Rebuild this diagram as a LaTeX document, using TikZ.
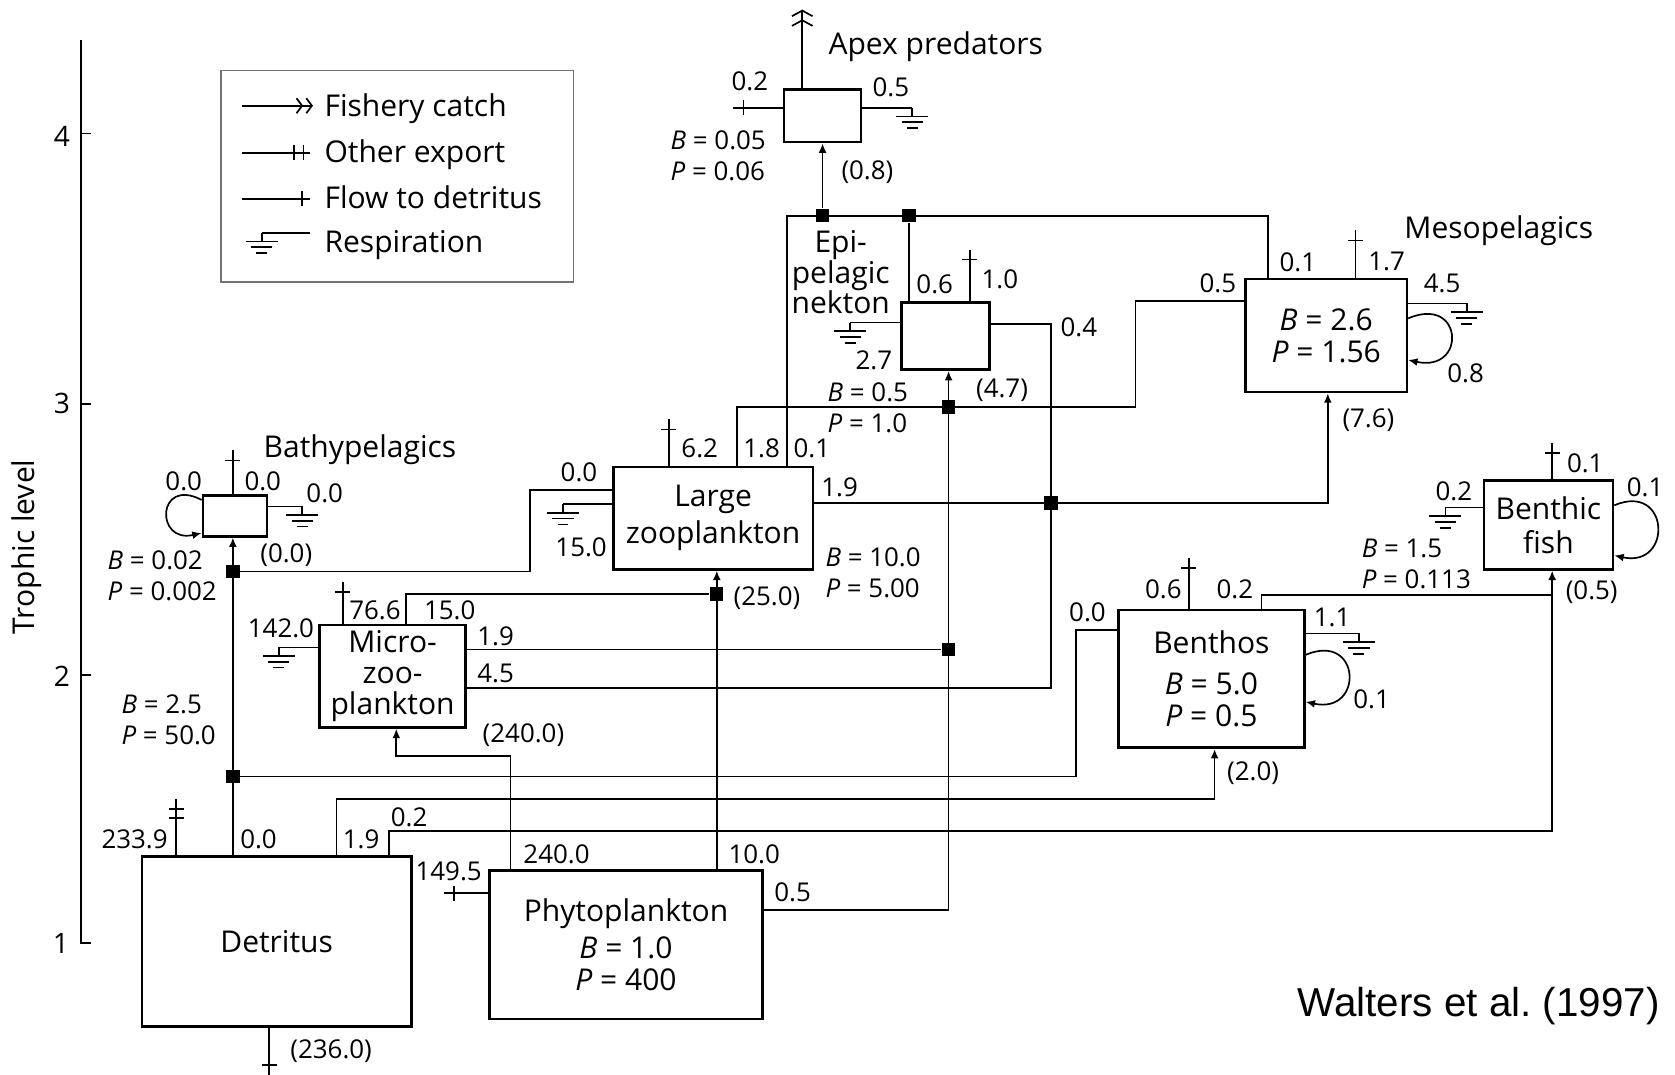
\documentclass[tikz,border=0pt]{standalone}
\usepackage{fontspec}
\setmainfont{Open Sans}
\newfontfamily\arialfont{Liberation Sans}
\usetikzlibrary{arrows.meta}
\newcommand\nmfont{\fontsize{16}{17}\selectfont}
\newcommand\nbfont{\fontsize{13.8}{16.5}\selectfont}
\tikzset{
  box/.style={draw, line width=1.4pt, inner sep=0pt, align=center, font=\nmfont},
  legbox/.style={draw=black!55, line width=0.8pt, inner sep=0pt},
  num/.style={font=\nbfont, inner sep=0pt},
  nm/.style={font=\nmfont, inner sep=0pt},
  bp/.style={font=\nbfont, inner sep=0pt, align=left, anchor=west},
  sq/.style={fill=black, inner sep=0pt, minimum size=0.25cm},
  arr/.style={-{Latex[length=5pt,width=4.2pt]}},
  catcharr/.style={-{Straight Barb[length=3pt,width=11pt,sep=1.2pt]Straight Barb[length=3pt,width=11pt]}},
  catchleg/.style={-{Straight Barb[length=3pt,width=8pt,sep=1.2pt]Straight Barb[length=3pt,width=8pt]}},
  grnd/.pic={\draw (0,0) -- (0,8); \draw (-15,8) -- (15,8); \draw (-10,13.5) -- (10,13.5); \draw (-5,19) -- (5,19);},
  htick/.pic={\draw (-7,0) -- (7,0);},
  vtick/.pic={\draw (0,-7) -- (0,7);},
}
\begin{document}
\begin{tikzpicture}[x=0.02cm, y=-0.02cm, line width=0.9pt]
\useasboundingbox (0,0) rectangle (1568,1006);

% ---------- axis ----------
\draw (76,37) -- (76,883) -- (85,883);
\draw (76,125) -- (85,125);
\draw (76,378) -- (85,378);
\draw (76,632) -- (85,632);
\node[num, font=\fontsize{15}{16}\selectfont] (t4) at (58,128) {4};
\node[num, font=\fontsize{15}{16}\selectfont] (t3) at (58,378) {3};
\node[num, font=\fontsize{15}{16}\selectfont] (t2) at (58,633) {2};
\node[num, font=\fontsize{15}{16}\selectfont] (t1) at (57,883) {1};
\node[nm, rotate=90] (tl) at (25,512) {Trophic level};

% ---------- legend ----------
\node[legbox, minimum width=6.6cm, minimum height=3.96cm] (leg) at (372,165) {};
\coordinate (l1) at (227,99);
\coordinate (l2) at (227,143);
\coordinate (l3) at (227,186);
\coordinate (l4) at (245,218);
\draw[catchleg] (l1) -- (293,99);
\draw (l2) -- (290,143);
\path (275,143) pic {vtick} (284,143) pic {vtick};
\draw (l3) -- (290,186);
\path (283,186) pic {vtick};
\draw (l4) -- (290,218);
\path (l4) pic {grnd};
\node[nm, anchor=base west] (lt1) at (303,109) {Fishery catch};
\node[nm, anchor=base west] (lt2) at (303,152) {Other export};
\node[nm, anchor=base west] (lt3) at (303,195) {Flow to detritus};
\node[nm, anchor=base west] (lt4) at (303,236) {Respiration};

% ---------- boxes ----------
\node[box, minimum width=1.44cm, minimum height=0.98cm] (apex) at (770,108.5) {};
\node[box, minimum width=1.64cm, minimum height=1.26cm] (nekton) at (885,314.5) {};
\node[box, minimum width=3.02cm, minimum height=2.12cm] (meso) at (1241.5,314) {\textit{B} = 2.6\\\textit{P} = 1.56};
\node[box, minimum width=1.2cm, minimum height=0.76cm] (bathy) at (220,483) {};
\node[box, minimum width=3.74cm, minimum height=1.92cm] (zoo) at (667.5,485) {Large\\[2.5pt]zooplankton};
\node[box, minimum width=2.74cm, minimum height=1.92cm, font=\fontsize{16}{16.5}\selectfont] (micro) at (367.5,633) {Micro-\\zoo-\\plankton};
\node[box, minimum width=3.48cm, minimum height=2.58cm] (benthos) at (1134,635.5) {Benthos\\[5pt]\textit{B} = 5.0\\\textit{P} = 0.5};
\node[box, minimum width=2.42cm, minimum height=1.66cm] (bfish) at (1449.5,491.5) {Benthic\\[1pt]fish};
\node[box, minimum width=5.04cm, minimum height=3.18cm] (detritus) at (259,881.5) {Detritus};
\node[box, minimum width=5.12cm, minimum height=2.78cm] (phyto) at (586,884.5) {Phytoplankton\\[3pt]\textit{B} = 1.0\\\textit{P} = 400};

% ---------- junction squares ----------
\node[sq] (j1) at (770,202) {};
\node[sq] (j2) at (851,202) {};
\node[sq] (j3) at (888,381) {};
\node[sq] (j4) at (984,471) {};
\node[sq] (j5) at (888,608) {};
\node[sq] (j6) at (218,535) {};
\node[sq] (j7) at (671,556) {};
\node[sq] (j8) at (218,727) {};

% ---------- apex predators ----------
\draw[catcharr] (apex.north -| 751,0) -- (751,9);
\draw (apex.west |- 0,101) -- (686,101);
\path (696,101) pic {vtick};
\draw (apex.east |- 0,101) -- (854,101);
\path (854,101) pic {grnd};
\draw[arr] (j1) -- (apex.south);

% ---------- top collector line ----------
\draw (zoo.north -| 737,0) -- (737,202) -- (1187,202) -- (meso.north -| 1187,0);

% ---------- epipelagic nekton ----------
\draw (nekton.north -| 851,0) -- (j2);
\draw (nekton.north -| 908,0) -- (908,234);
\path (908,243) pic {htick};
\draw (nekton.west |- 0,302) -- (796,302);
\path (796,302) pic {grnd};
\draw (nekton.east |- 0,303) -- (984,303) -- (984,644) -- (micro.east |- 0,644);
\draw[arr] (phyto.east |- 0,852) -- (888,852) -- (nekton.south -| 888,0);

% ---------- large zooplankton ----------
\draw (zoo.north -| 690,0) -- (690,381) -- (1063,381) -- (1063,282) -- (meso.west |- 0,282);
\draw (zoo.north -| 626,0) -- (626,392);
\path (626,402) pic {htick};
\draw[arr] (zoo.east |- 0,471) -- (1243,471) -- (meso.south -| 1243,0);
\draw (zoo.west |- 0,459) -- (496,459) -- (496,535) -- (j6);
\draw (zoo.west |- 0,472) -- (527,472);
\path (527,472) pic {grnd};
\draw[arr] (phyto.north -| 671,0) -- (zoo.south -| 671,0);

% ---------- bathypelagics ----------
\draw[arr] (detritus.north -| 218,0) -- (bathy.south -| 218,0);
\draw (bathy.north -| 218,0) -- (218,421);
\path (218,431) pic {htick};
\draw (bathy.east |- 0,474) -- (283,474);
\path (283,474) pic {grnd};
\draw[arr] (bathy.west |- 0,468) .. controls +(-42,-22) and +(-44,10) .. (bathy.west |- 0,499);

% ---------- microzooplankton ----------
\draw (micro.north -| 321,0) -- (321,545);
\path (321,554) pic {htick};
\draw (micro.north -| 380,0) -- (380,556) -- (j7);
\draw (micro.west |- 0,606) -- (261,606);
\path (261,606) pic {grnd};
\draw (micro.east |- 0,608) -- (j5);
\draw[arr] (phyto.north -| 478,0) -- (478,708) -- (371,708) -- (micro.south -| 371,0);

% ---------- detritus ----------
\draw (detritus.north -| 165,0) -- (165,748);
\path (165,757) pic {htick} (165,766) pic {htick};
\draw[arr] (detritus.north -| 315,0) -- (315,748) -- (1137,748) -- (benthos.south -| 1137,0);
\draw[arr] (detritus.north -| 364,0) -- (364,778) -- (1453,778) -- (bfish.south -| 1453,0);
\draw (detritus.south -| 252,0) -- (252,1006);
\path (252,997) pic {htick};

% ---------- benthos ----------
\draw (benthos.west |- 0,590) -- (1007,590) -- (1007,727) -- (j8);
\draw (benthos.north -| 1181,0) -- (1181,557) -- (1453,557);
\draw (benthos.north -| 1113,0) -- (1113,522);
\path (1113,532) pic {htick};
\draw (benthos.east |- 0,593) -- (1272,593);
\path (1272,593) pic {grnd};
\draw[arr] (benthos.east |- 0,613) .. controls +(52,-22) and +(55,12) .. (benthos.east |- 0,657);

% ---------- benthic fish ----------
\draw (bfish.north -| 1453,0) -- (1453,415);
\path (1453,424) pic {htick};
\draw (bfish.west |- 0,475) -- (1353,475);
\path (1353,475) pic {grnd};
\draw[arr] (bfish.east |- 0,473) .. controls +(52,-22) and +(55,12) .. (bfish.east |- 0,520);

% ---------- mesopelagics ----------
\draw (meso.north -| 1269,0) -- (1269,215);
\path (1269,225) pic {htick};
\draw (meso.east |- 0,284) -- (1373,284);
\path (1373,284) pic {grnd};
\draw[arr] (meso.east |- 0,298) .. controls +(52,-22) and +(55,12) .. (meso.east |- 0,337);

% ---------- phytoplankton ----------
\draw (phyto.west |- 0,836) -- (416,836);
\path (425,836) pic {vtick};

% ---------- names ----------
\node[nm, anchor=base] (napex) at (876,51) {Apex predators};
\node[nm, anchor=base] (nmeso) at (1403,223) {Mesopelagics};
\node[nm, anchor=base] (nbathy) at (337,428) {Bathypelagics};
\node[nm, align=center, font=\fontsize{16}{16.3}\selectfont] (nnek) at (787,255) {Epi-\\pelagic\\nekton};

% ---------- numbers ----------
% apex
\node[num] (a1) at (702,76) {0.2};
\node[num] (a2) at (834,82) {0.5};
\node[num] (a3) at (812,161) {(0.8)};
\node[bp] (abp) at (627,145.5) {\textit{B} = 0.05\\\textit{P} = 0.06};
% nekton
\node[num] (e1) at (875,266) {0.6};
\node[num] (e2) at (936,261) {1.0};
\node[num] (e3) at (818,337) {2.7};
\node[num] (e4) at (1010,306) {0.4};
\node[num] (e5) at (938,365) {(4.7)};
\node[bp] (ebp) at (774,381.5) {\textit{B} = 0.5\\\textit{P} = 1.0};
% meso
\node[num] (m1) at (1140,265) {0.5};
\node[num] (m2) at (1215,246) {0.1};
\node[num] (m3) at (1298,245) {1.7};
\node[num] (m4) at (1350,265) {4.5};
\node[num] (m5) at (1372,349) {0.8};
\node[num] (m6) at (1281,393) {(7.6)};
% bathy
\node[num] (b1) at (172,451) {0.0};
\node[num] (b2) at (246,451) {0.0};
\node[num] (b3) at (304,462) {0.0};
\node[num] (b4) at (268,520) {(0.0)};
\node[bp] (bbp) at (100,539) {\textit{B} = 0.02\\\textit{P} = 0.002};
% large zooplankton
\node[num] (z1) at (542,442) {0.0};
\node[num] (z2) at (544,512) {15.0};
\node[num] (z3) at (655,420) {6.2};
\node[num] (z4) at (713,420) {1.8};
\node[num] (z5) at (760,420) {0.1};
\node[num] (z6) at (786,456) {1.9};
\node[num] (z7) at (718,560) {(25.0)};
\node[bp] (zbp) at (772,536) {\textit{B} = 10.0\\\textit{P} = 5.00};
% micro
\node[num] (u1) at (351,571) {76.6};
\node[num] (u2) at (421,571) {15.0};
\node[num] (u3) at (263,588) {142.0};
\node[num] (u4) at (464,596) {1.9};
\node[num] (u5) at (464,630) {4.5};
\node[num] (u6) at (490,688) {(240.0)};
\node[bp] (ubp) at (113,674) {\textit{B} = 2.5\\\textit{P} = 50.0};
% detritus
\node[num] (d1) at (126,786) {233.9};
\node[num] (d2) at (242,786) {0.0};
\node[num] (d3) at (338,786) {1.9};
\node[num] (d4) at (383,765) {0.2};
\node[num] (d5) at (310,984) {(236.0)};
% phyto
\node[num] (p1) at (420,816) {149.5};
\node[num] (p2) at (521,800) {240.0};
\node[num] (p3) at (706,800) {10.0};
\node[num] (p4) at (742,835) {0.5};
% benthos
\node[num] (h1) at (1018,573) {0.0};
\node[num] (h2) at (1089,552) {0.6};
\node[num] (h3) at (1156,552) {0.2};
\node[num] (h4) at (1247,578) {1.1};
\node[num] (h5) at (1284,655) {0.1};
\node[num] (h6) at (1173,724) {(2.0)};
% benthic fish
\node[num] (f1) at (1361,460) {0.2};
\node[num] (f2) at (1484,434) {0.1};
\node[num] (f3) at (1540,456) {0.1};
\node[num] (f4) at (1490,554) {(0.5)};
\node[bp] (fbp) at (1274,528) {\textit{B} = 1.5\\\textit{P} = 0.113};

% ---------- source ----------
\node[inner sep=0pt, anchor=base west, font=\arialfont\fontsize{21.5}{24}\selectfont] (src) at (1214,952) {Walters et al.~(1997)};
\end{tikzpicture}
\end{document}
